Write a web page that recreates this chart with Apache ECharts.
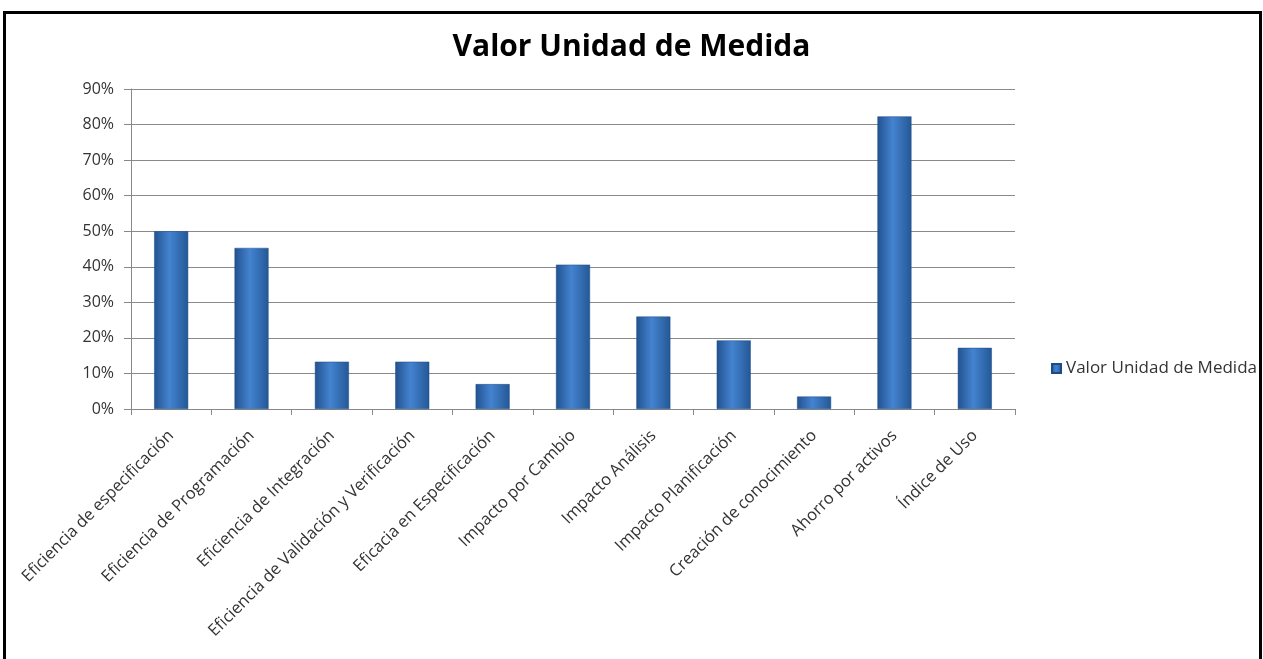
<!DOCTYPE html>
<html>
<head>
<meta charset="utf-8">
<script src="https://cdn.jsdelivr.net/npm/echarts@6/dist/echarts.min.js"></script>
<style>
  html, body { margin: 0; padding: 0; background: #fff; }
  #frame {
    position: absolute; left: 3px; top: 11px; width: 1253px; height: 660px;
    border: 3px solid #000; box-sizing: content-box;
  }
  #chart { position: absolute; left: 0; top: 0; width: 1263px; height: 659px; }
</style>
</head>
<body>
<div id="frame"></div>
<div id="chart"></div>
<script>
const categories = [
  "Eficiencia de especificación",
  "Eficiencia de Programación",
  "Eficiencia de Integración",
  "Eficiencia de Validación y Verificación",
  "Eficacia en Especificación",
  "Impacto por Cambio",
  "Impacto Análisis",
  "Impacto Planificación",
  "Creación de conocimiento",
  "Ahorro por activos",
  "Índice de Uso",
];
const values = [50, 45.3, 13.3, 13.3, 7, 40.6, 26, 19.3, 3.5, 82.3, 17.2];
const seriesName = "Valor Unidad de Medida";

const barColor = new echarts.graphic.LinearGradient(0, 0, 1, 0, [
  { offset: 0, color: "#22528f" },
  { offset: 0.45, color: "#4483d0" },
  { offset: 1, color: "#245896" },
]);

const chart = echarts.init(document.getElementById("chart"));
chart.setOption({
  animation: false,
  title: {
    text: seriesName,
    left: "center",
    top: 27,
    textStyle: { fontFamily: "Open Sans", fontWeight: "bold", fontSize: 30, color: "#000" },
  },
  legend: {
    data: [seriesName],
    right: 1,
    top: 355,
    icon: "rect",
    itemWidth: 9,
    itemHeight: 9,
    itemGap: 4,
    textStyle: { fontFamily: "Open Sans", fontSize: 17, color: "#333" },
  },
  grid: { left: 131, right: 248, top: 89, bottom: 250 },
  xAxis: {
    type: "category",
    data: categories,
    axisLine: { lineStyle: { color: "#888" } },
    axisTick: { show: true, length: 6, lineStyle: { color: "#888" } },
    axisLabel: {
      interval: 0,
      rotate: 45,
      margin: 24,
      fontFamily: "Open Sans",
      fontSize: 16.5,
      color: "#333",
    },
  },
  yAxis: {
    type: "value",
    min: 0,
    max: 90,
    interval: 10,
    axisLine: { show: true, lineStyle: { color: "#888" } },
    axisTick: { show: true, length: 7, lineStyle: { color: "#888" } },
    splitLine: { lineStyle: { color: "#8a8a8a" } },
    axisLabel: {
      formatter: "{value}%",
      margin: 17,
      fontFamily: "Open Sans",
      fontSize: 16,
      color: "#333",
    },
  },
  series: [
    {
      name: seriesName,
      type: "bar",
      data: values,
      barWidth: 34,
      itemStyle: { color: barColor, borderColor: "#1d4a85", borderWidth: 0.5 },
    },
  ],
});
</script>
</body>
</html>
